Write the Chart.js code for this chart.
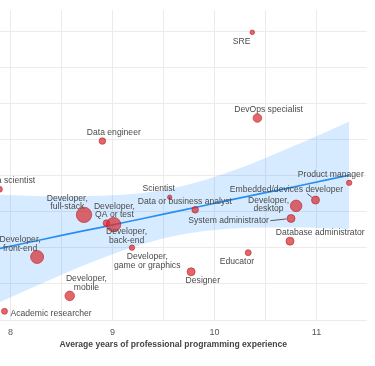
<!DOCTYPE html>
<html>
<head>
<meta charset="utf-8">
<script src="https://cdn.jsdelivr.net/npm/chart.js@4.4.1/dist/chart.umd.min.js"></script>
<style>
html, body { margin: 0; padding: 0; background: #fff; overflow: hidden; }
#wrap { position: absolute; left: -30px; top: 0; width: 405px; height: 366px; }
</style>
</head>
<body>
<div id="wrap"><canvas id="chart"></canvas></div>
<script>
// developer types with average years of experience, y value and number of respondents
var devTypes = [
    "SRE", "DevOps specialist", "Data engineer", "Data scientist",
    "Developer, full-stack", "Developer, QA or test", "Developer, back-end", "Developer, front-end",
    "Developer, game or graphics", "Scientist", "Data or business analyst", "System administrator",
    "Developer, desktop", "Embedded/devices developer", "Product manager", "Database administrator",
    "Educator", "Designer", "Developer, mobile", "Academic researcher"
];
var avgYears = [10.37, 10.42, 8.90, 7.89, 8.72, 8.94, 9.01, 8.26, 9.19, 9.56, 9.81, 10.75, 10.80, 10.99, 11.32, 10.74, 10.33, 9.77, 8.58, 7.94];
var avgValue = [119.9, 96.1, 89.7, 76.3, 69.2, 66.9, 66.5, 57.5, 60.1, 74.1, 70.6, 68.2, 71.7, 73.3, 78.1, 61.9, 58.7, 53.4, 46.7, 42.4];
var respondents = [530, 1850, 1090, 900, 5930, 1090, 5180, 4225, 730, 485, 1090, 1600, 3365, 1600, 730, 1600, 900, 1600, 2300, 900];

// fitted trend and its confidence band
var fitYears = [7.7, 7.9, 8.1, 8.3, 8.5, 8.7, 8.9, 9.1, 9.3, 9.5, 9.7, 9.9, 10.1, 10.3, 10.5, 10.7, 10.9, 11.1, 11.32];
var fitValue = [58.7, 59.9, 61.1, 62.3, 63.5, 64.7, 65.8, 67.0, 68.2, 69.4, 70.6, 71.8, 73.0, 74.2, 75.4, 76.5, 77.7, 78.9, 80.2];
var fitUpper = [75.0, 74.8, 74.6, 74.4, 74.4, 74.4, 74.5, 74.8, 75.3, 76.1, 77.3, 78.8, 80.7, 82.7, 85.0, 87.4, 89.8, 92.3, 95.1];
var fitLower = [42.5, 45.0, 47.6, 50.1, 52.6, 55.0, 57.2, 59.3, 61.1, 62.7, 63.9, 64.7, 65.3, 65.6, 65.7, 65.7, 65.7, 65.5, 65.3];

var xTickLabels = [8, 9, 10, 11];

// where each label sits relative to its bubble (text block centre)
var labelPlace = {
    "SRE": [-10.7, 9.4],
    "DevOps specialist": [11.2, -8.7],
    "Data engineer": [11.4, -8.7],
    "Data scientist": [9.9, -8.6],
    "Developer, full-stack": [-16.7, -12.2],
    "Developer, QA or test": [8, -12.8],
    "Developer, back-end": [13, 11.3],
    "Developer, front-end": [-17, -13],
    "Developer, game or graphics": [15.3, 13.3],
    "Scientist": [-11, -8.6],
    "Data or business analyst": [-10.3, -8.3],
    "System administrator": [-62.5, 2.4, -20.7, 2.2],
    "Developer, desktop": [-27.6, -1.2],
    "Embedded/devices developer": [-29, -11, -8.3, -6.5],
    "Product manager": [-18.4, -8.7],
    "Database administrator": [30.2, -8.3],
    "Educator": [-11.3, 9],
    "Designer": [11.7, 9],
    "Developer, mobile": [16.7, -12.9],
    "Academic researcher": [6, 2.4, null, null, "left"]
};

function pts(xs, ys) {
    return xs.map(function(x, i) { return { x: x, y: ys[i] }; });
}

var bubbles = devTypes.map(function(name, i) {
    return { x: avgYears[i], y: avgValue[i], r: Math.sqrt(respondents[i]) / 10 };
});

var labelPlugin = {
    id: "bubbleLabels",
    afterDatasetsDraw: function(chart) {
        var ctx = chart.ctx;
        var meta = chart.getDatasetMeta(0);
        var squeeze = 0.925;
        devTypes.forEach(function(name, i) {
            var el = meta.data[i];
            var p = labelPlace[name];
            var cx = el.x + p[0], cy = el.y + p[1];
            var lines = name.indexOf(", ") > 0 ? [name.split(", ")[0] + ",", name.split(", ")[1]] : [name];
            var lh = 8.2;
            ctx.save();
            ctx.font = "9.3px 'Liberation Sans', Arial, sans-serif";
            ctx.fillStyle = "#4a4a4a";
            ctx.textBaseline = "middle";
            ctx.textAlign = p[4] || "center";
            ctx.translate(cx, cy);
            ctx.scale(squeeze, 1);
            lines.forEach(function(t, k) {
                ctx.fillText(t, 0, (k - (lines.length - 1) / 2) * lh);
            });
            ctx.restore();
            if (p[2] != null) {
                var fx = el.x + p[2], fy = el.y + p[3];
                var dx = el.x - fx, dy = el.y - fy, d = Math.sqrt(dx * dx + dy * dy);
                var r = bubbles[i].r + 0.5;
                ctx.save();
                ctx.strokeStyle = "#4a4a4a";
                ctx.lineWidth = 0.9;
                ctx.beginPath();
                ctx.moveTo(fx, fy);
                ctx.lineTo(el.x - dx / d * r, el.y - dy / d * r);
                ctx.stroke();
                ctx.restore();
            }
        });
    }
};

Chart.defaults.font.family = "'Liberation Sans', Arial, sans-serif";
Chart.defaults.font.size = 8.6;
Chart.defaults.color = "#555";

new Chart(document.getElementById("chart"), {
    type: "bubble",
    data: {
        datasets: [{
            data: bubbles,
            backgroundColor: "rgba(214, 45, 50, 0.72)",
            borderColor: "rgba(190, 30, 35, 0.75)",
            borderWidth: 0.8,
            order: 0
        }, {
            type: "line",
            data: pts(fitYears, fitValue),
            borderColor: "#2a8ff0",
            borderWidth: 1.7,
            pointRadius: 0,
            fill: false,
            order: 1
        }, {
            type: "line",
            data: pts(fitYears, fitUpper),
            borderWidth: 0,
            pointRadius: 0,
            backgroundColor: "rgba(30, 144, 255, 0.18)",
            fill: "+1",
            order: 2
        }, {
            type: "line",
            data: pts(fitYears, fitLower),
            borderWidth: 0,
            pointRadius: 0,
            fill: false,
            order: 3
        }]
    },
    options: {
        responsive: true,
        maintainAspectRatio: false,
        animation: false,
        layout: { padding: { left: 10, right: 6, top: 10, bottom: 0 } },
        plugins: { legend: { display: false }, tooltip: { enabled: false } },
        scales: {
            x: {
                type: "linear",
                min: 7.7,
                max: 11.49,
                afterFit: function(s) { s.height = 46; },
                afterBuildTicks: function(s) {
                    s.ticks = s.ticks.filter(function(t) { return t.value > s.min && t.value < s.max; });
                },
                grid: { color: "#ebebeb", drawTicks: false },
                border: { display: false },
                ticks: {
                    stepSize: 0.5,
                    includeBounds: false,
                    padding: 7,
                    color: "#555",
                    font: { size: 9 },
                    callback: function(v) { return xTickLabels.indexOf(v) >= 0 ? String(v) : ""; }
                },
                title: {
                    display: true,
                    text: "Average years of professional programming experience",
                    color: "#444",
                    font: { weight: "bold", size: 8.6 },
                    padding: { top: 0, bottom: 15.8 }
                }
            },
            y: {
                min: 40,
                max: 126.1,
                grid: { color: "#ebebeb", drawTicks: false },
                border: { display: false },
                ticks: { display: false, stepSize: 10, includeBounds: false }
            }
        }
    },
    plugins: [labelPlugin]
});
</script>
</body>
</html>
